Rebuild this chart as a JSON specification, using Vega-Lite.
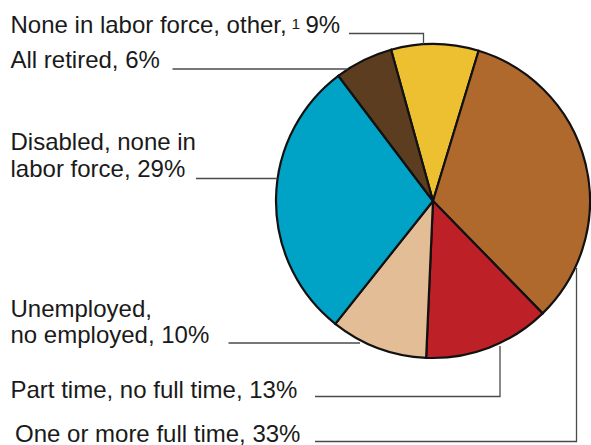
{
  "$schema": "https://vega.github.io/schema/vega-lite/v6.json",
  "width": 314,
  "height": 314,
  "autosize": {"type": "none"},
  "padding": {"left": 276, "top": 44, "right": 1, "bottom": 87},
  "background": "white",
  "config": {"view": {"stroke": null}, "font": "Liberation Sans"},
  "datasets": {
    "slices": [
      {"category": "None in labor force, other", "percent": 9},
      {"category": "One or more full time", "percent": 33},
      {"category": "Part time, no full time", "percent": 13},
      {"category": "Unemployed, no employed", "percent": 10},
      {"category": "Disabled, none in labor force", "percent": 29},
      {"category": "All retired", "percent": 6}
    ],
    "labels": [
      {"category": "None in labor force, other", "x": 10.5, "y": 33.3, "text": "None in labor force, other,"},
      {"category": "None in labor force, other", "x": 305.5, "y": 33.3, "text": "9%"},
      {"category": "All retired", "x": 10.5, "y": 68.3, "text": "All retired, 6%"},
      {"category": "Disabled, none in labor force", "x": 10.5, "y": 150, "text": "Disabled, none in\nlabor force, 29%"},
      {"category": "Unemployed, no employed", "x": 10.5, "y": 316.7, "text": "Unemployed,\nno employed, 10%"},
      {"category": "Part time, no full time", "x": 10.5, "y": 397.5, "text": "Part time, no full time, 13%"},
      {"category": "One or more full time", "x": 15, "y": 441.5, "text": "One or more full time, 33%"}
    ],
    "notes": [
      {"category": "None in labor force, other", "x": 291.5, "y": 28.5, "text": "1"}
    ],
    "leaders": [
      {"category": "None in labor force, other", "step": 0, "x": 349, "y": 33.5},
      {"category": "None in labor force, other", "step": 1, "x": 423.5, "y": 33.5},
      {"category": "None in labor force, other", "step": 2, "x": 423.5, "y": 44},
      {"category": "All retired", "step": 0, "x": 172.5, "y": 69},
      {"category": "All retired", "step": 1, "x": 347.5, "y": 69},
      {"category": "Disabled, none in labor force", "step": 0, "x": 196, "y": 178.5},
      {"category": "Disabled, none in labor force", "step": 1, "x": 277.5, "y": 178.5},
      {"category": "Unemployed, no employed", "step": 0, "x": 228.5, "y": 343},
      {"category": "Unemployed, no employed", "step": 1, "x": 360, "y": 343},
      {"category": "Part time, no full time", "step": 0, "x": 315, "y": 396.5},
      {"category": "Part time, no full time", "step": 1, "x": 500, "y": 396.5},
      {"category": "Part time, no full time", "step": 2, "x": 500, "y": 346},
      {"category": "One or more full time", "step": 0, "x": 315, "y": 441.5},
      {"category": "One or more full time", "step": 1, "x": 576.5, "y": 441.5},
      {"category": "One or more full time", "step": 2, "x": 576.5, "y": 268}
    ]
  },
  "layer": [
    {
      "data": {"name": "slices"},
      "transform": [{"window": [{"op": "row_number", "as": "idx"}]}],
      "mark": {"type": "arc", "stroke": "#111111", "strokeWidth": 2.2},
      "encoding": {
        "theta": {"field": "percent", "type": "quantitative", "stack": true, "scale": {"range": [-0.2705, 6.0127]}},
        "order": {"field": "idx", "type": "quantitative"},
        "color": {
          "field": "category",
          "type": "nominal",
          "scale": {
            "domain": ["None in labor force, other", "One or more full time", "Part time, no full time", "Unemployed, no employed", "Disabled, none in labor force", "All retired"],
            "range": ["#ECC030", "#B0692C", "#BE2028", "#E3BD95", "#00A2C6", "#5C3D1F"]
          },
          "legend": null
        }
      }
    },
    {
      "data": {"name": "leaders"},
      "mark": {"type": "line", "color": "#4a4a4a", "strokeWidth": 1.3, "strokeCap": "butt"},
      "encoding": {
        "x": {"field": "x", "type": "quantitative", "scale": {"domain": [276, 590], "nice": false, "zero": false}, "axis": null},
        "y": {"field": "y", "type": "quantitative", "scale": {"domain": [44, 358], "nice": false, "zero": false, "reverse": true}, "axis": null},
        "detail": {"field": "category", "type": "nominal"},
        "order": {"field": "step", "type": "quantitative"}
      }
    },
    {
      "data": {"name": "labels"},
      "mark": {"type": "text", "align": "left", "baseline": "alphabetic", "fontSize": 24, "lineHeight": 26.7, "lineBreak": "\n", "color": "#1a1a1a"},
      "encoding": {
        "x": {"field": "x", "type": "quantitative"},
        "y": {"field": "y", "type": "quantitative"},
        "text": {"field": "text", "type": "nominal"}
      }
    },
    {
      "data": {"name": "notes"},
      "mark": {"type": "text", "align": "left", "baseline": "alphabetic", "fontSize": 15.5, "color": "#1a1a1a"},
      "encoding": {
        "x": {"field": "x", "type": "quantitative"},
        "y": {"field": "y", "type": "quantitative"},
        "text": {"field": "text", "type": "nominal"}
      }
    }
  ]
}
